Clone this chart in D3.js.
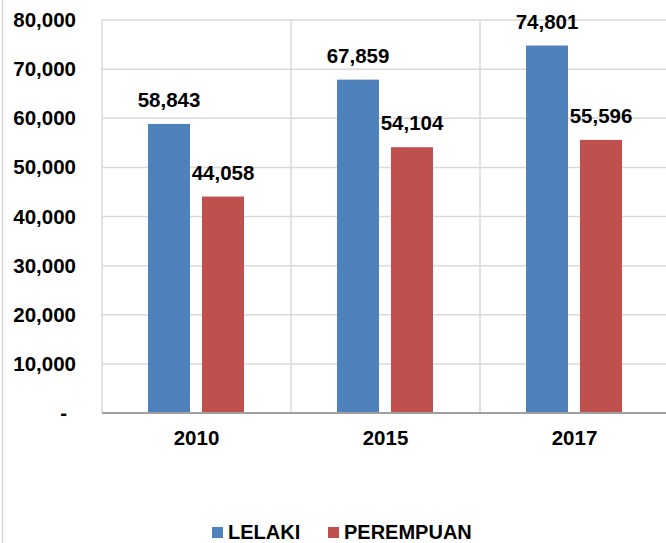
<!DOCTYPE html>
<html>
<head>
<meta charset="utf-8">
<script src="https://cdn.jsdelivr.net/npm/d3@7"></script>
<style>
  body { margin: 0; background: #fff; }
  text { font-family: "Liberation Sans", Arial, sans-serif; font-weight: bold; fill: #000; }
</style>
</head>
<body>
<div id="viz"></div>
<script>
var years = ['2010', '2015', '2017'];
var series = ['LELAKI', 'PEREMPUAN'];
var lelaki = [58843, 67859, 74801];
var perempuan = [44058, 54104, 55596];
var yTicks = [0, 10000, 20000, 30000, 40000, 50000, 60000, 70000, 80000];
var colors = ['#4f81bd', '#c0504d'];

var width = 666, height = 543;
var margin = {top: 20, right: -3, bottom: 130, left: 102};
var fontSize = '20.5px';

var svg = d3.select('#viz').append('svg')
  .attr('width', width)
  .attr('height', height);

// outer chart border (only the left edge shows in the frame)
svg.append('line')
  .attr('x1', 2.5).attr('x2', 2.5)
  .attr('y1', 0).attr('y2', height)
  .attr('stroke', '#d9d9d9')
  .attr('stroke-width', 1.5);

var x = d3.scaleBand()
  .domain(years)
  .range([margin.left, width - margin.right])
  .padding(0);

var xInner = d3.scaleBand()
  .domain(series)
  .range([x.bandwidth() * 0.2434, x.bandwidth() * 0.7513])
  .paddingInner(0.222);

// zero line sits at y = 413
var y = d3.scaleLinear()
  .domain([0, 80000])
  .range([height - margin.bottom, margin.top]);

var fmt = d3.format(',');

// horizontal gridlines
svg.append('g')
  .selectAll('line')
  .data(yTicks.slice(1))
  .join('line')
  .attr('x1', margin.left)
  .attr('x2', width)
  .attr('y1', d => y(d))
  .attr('y2', d => y(d))
  .attr('stroke', '#d9d9d9')
  .attr('stroke-width', 1.5);

// vertical gridlines at category boundaries
svg.append('g')
  .selectAll('line')
  .data(years)
  .join('line')
  .attr('x1', d => x(d))
  .attr('x2', d => x(d))
  .attr('y1', y(80000))
  .attr('y2', y(0))
  .attr('stroke', '#d9d9d9')
  .attr('stroke-width', 1.5);

// y axis labels
var yAxis = d3.axisLeft(y)
  .tickValues(yTicks)
  .tickSize(0)
  .tickPadding(0)
  .tickFormat(d => d === 0 ? '-' : fmt(d));

svg.append('g')
  .attr('transform', 'translate(' + 76 + ',0)')
  .call(yAxis)
  .call(g => g.select('.domain').remove())
  .selectAll('text')
  .attr('font-size', fontSize)
  .attr('font-family', '"Liberation Sans", Arial, sans-serif')
  .attr('font-weight', 'bold')
  .attr('fill', '#000')
  .attr('dx', d => d === 0 ? -9 : 0);

// bars
var groups = svg.append('g')
  .selectAll('g')
  .data(years)
  .join('g')
  .attr('transform', d => 'translate(' + x(d) + ',0)');

var rows = years.map((yr, i) => [
  {key: 'LELAKI', value: lelaki[i], c: colors[0]},
  {key: 'PEREMPUAN', value: perempuan[i], c: colors[1]}
]);

groups.selectAll('rect')
  .data((d, i) => rows[i])
  .join('rect')
  .attr('x', d => xInner(d.key))
  .attr('width', xInner.bandwidth())
  .attr('y', d => y(d.value))
  .attr('height', d => y(0) - y(d.value))
  .attr('fill', d => d.c);

groups.selectAll('text')
  .data((d, i) => rows[i])
  .join('text')
  .attr('x', d => xInner(d.key) + xInner.bandwidth() / 2)
  .attr('y', d => y(d.value) - 17)
  .attr('text-anchor', 'middle')
  .attr('font-size', fontSize)
  .text(d => fmt(d.value));

// x axis baseline
svg.append('line')
  .attr('x1', margin.left)
  .attr('x2', width)
  .attr('y1', y(0))
  .attr('y2', y(0))
  .attr('stroke', '#a0a0a0')
  .attr('stroke-width', 2);

// x axis labels
var xAxis = d3.axisBottom(x).tickSize(0).tickPadding(0);
svg.append('g')
  .attr('transform', 'translate(0,' + (y(0) + 32) + ')')
  .call(xAxis)
  .call(g => g.select('.domain').remove())
  .selectAll('text')
  .attr('dy', 0)
  .attr('font-size', fontSize)
  .attr('font-family', '"Liberation Sans", Arial, sans-serif')
  .attr('font-weight', 'bold')
  .attr('fill', '#000');

// legend
var legendPos = [212, 328];
var legend = svg.append('g')
  .selectAll('g')
  .data(series)
  .join('g')
  .attr('transform', (d, i) => 'translate(' + legendPos[i] + ',527)');

legend.append('rect')
  .attr('width', 11)
  .attr('height', 11)
  .attr('fill', (d, i) => colors[i]);

legend.append('text')
  .attr('x', 16)
  .attr('y', 11.5)
  .attr('font-size', '20px')
  .text(d => d);
</script>
</body>
</html>
